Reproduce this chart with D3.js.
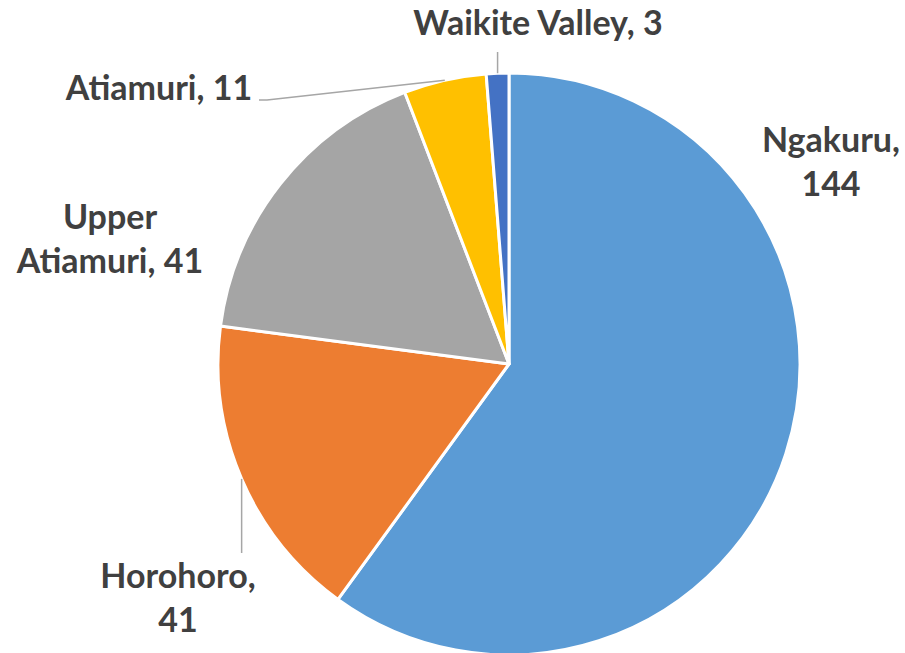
<!DOCTYPE html>
<html><head><meta charset="utf-8">
<script src="https://cdn.jsdelivr.net/npm/d3@7"></script>
<style>html,body{margin:0;padding:0;background:#fff;}</style>
</head><body>
<svg id="c" width="905" height="653"></svg>
<script>
const categories = ["Ngakuru", "Horohoro", "Upper Atiamuri", "Atiamuri", "Waikite Valley"];
const values = [144, 41, 41, 11, 3];
const colors = ["#5B9BD5", "#ED7D31", "#A5A5A5", "#FFC000", "#4472C4"];

// label layout: text lines, anchor centre x, first baseline y, leader end point (or null)
const labelLayout = [
  {lines: ["Ngakuru,", "144"], x: 831, y: 152, leader: null},
  {lines: ["Horohoro,", "41"], x: 178, y: 588, leader: {type: "v", y: 553}},
  {lines: ["Upper", "Atiamuri, 41"], x: 110, y: 229, leader: null},
  {lines: ["Atiamuri, 11"], x: 159, y: 100, leader: {type: "h", x1: 259, y: 100}},
  {lines: ["Waikite Valley, 3"], x: 538, y: 35, leader: {type: "v", y: 52}}
];

const data = categories.map((c, i) => ({name: c, value: values[i], color: colors[i]}));
const svg = d3.select("#c");
const cx = 509, cy = 364, R = 291;
const g = svg.append("g").attr("transform", `translate(${cx},${cy})`);
const pie = d3.pie().sort(null).value(d => d.value);
const arc = d3.arc().innerRadius(0).outerRadius(R);
const arcs = pie(data);

g.selectAll("path").data(arcs).join("path")
  .attr("d", arc)
  .attr("fill", d => d.data.color)
  .attr("stroke", "#fff")
  .attr("stroke-width", 3)
  .attr("stroke-linejoin", "round");

// leader lines
arcs.forEach((a, i) => {
  const L = labelLayout[i].leader;
  if (!L) return;
  const m = (a.startAngle + a.endAngle) / 2;
  const px = cx + R * Math.sin(m), py = cy - R * Math.cos(m);
  let pts;
  if (L.type === "v") pts = [[px, py], [px, L.y]];
  else pts = [[px, py], [L.x1 + 8, L.y], [L.x1, L.y]];
  svg.append("path")
    .attr("d", d3.line()(pts))
    .attr("fill", "none")
    .attr("stroke", "#A6A6A6")
    .attr("stroke-width", 1.5);
});

const lineH = 44;
labelLayout.forEach((lab, i) => {
  const t = svg.append("text")
    .attr("text-anchor", "middle")
    .attr("font-family", "Lato, 'Open Sans', sans-serif")
    .attr("font-weight", "bold")
    .attr("font-size", 34)
    .attr("fill", "#404040");
  lab.lines.forEach((ln, k) => {
    t.append("tspan").attr("x", lab.x).attr("y", lab.y + k * lineH).text(ln);
  });
});
</script>
</body></html>
